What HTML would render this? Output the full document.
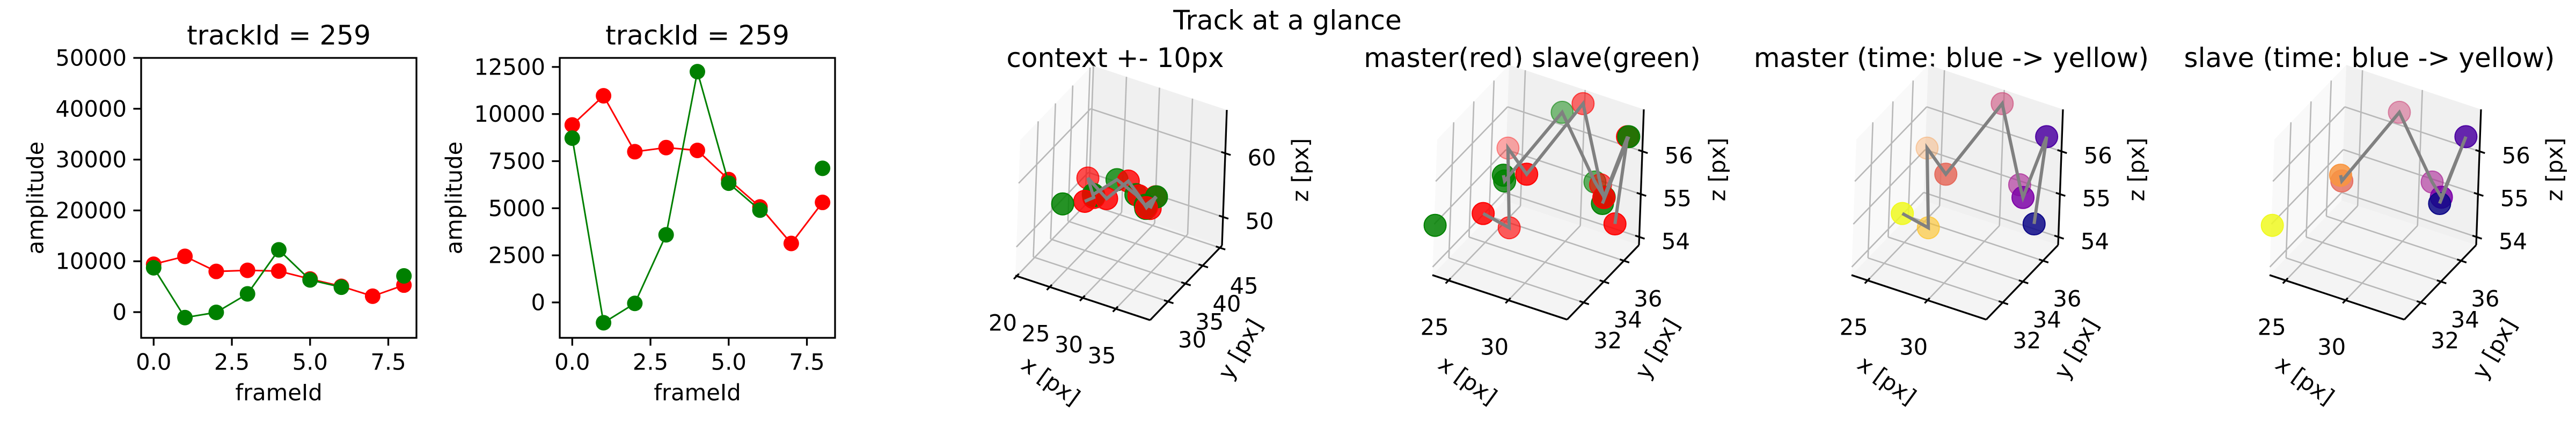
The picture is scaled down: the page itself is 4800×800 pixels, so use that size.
<!DOCTYPE html>
<html><head><meta charset="utf-8">
<style>
html,body{margin:0;padding:0;background:#fff;}
svg{display:block;font-family:"DejaVu Sans","Liberation Sans",sans-serif;}
</style></head>
<body>
<svg id="fig" xmlns="http://www.w3.org/2000/svg" width="4800" height="800" viewBox="0 0 4800 800">
<rect width="4800" height="800" fill="#fff"/>
<text x="2399" y="38" font-size="50" text-anchor="middle" dominant-baseline="central">Track at a glance</text>
</svg>
<script>
const frames = [0,1,2,3,4,5,6,7,8];
const ampMaster = [9420,10970,8000,8220,8070,6520,5070,3130,5310];
const ampSlave = [8720,-1080,-50,3590,12250,6330,4900,null,7120];
const ylim1 = [-5060,50000];
const ylim2 = [-1880,12980];
const yticks1 = [0,10000,20000,30000,40000,50000];
const yticks2 = [0,2500,5000,7500,10000,12500];
const xticks2d = [0,2.5,5,7.5];
const xtickLabels2d = ["0.0","2.5","5.0","7.5"];

const masterX = [34.0,34.78,34.15,31.55,29.87,28.85,23.8,25.85,25.95];
const masterY = [36.07,36.07,34.64,37.5,37.5,33.22,37.5,35.36,32.5];
const masterZ = [54.57,56.68,55.55,54.91,56.65,55.95,55.05,53.9,54.94];
const slaveX = [34.05,34.88,33.6,31.08,28.17,26.48,26.93,null,23.73];
const slaveY = [34.64,36.07,35.36,37.5,37.5,33.93,33.22,null,30.36];
const slaveZ = [55.4,56.69,55.33,54.93,56.29,55.4,55.75,null,54.98];

const ctxXlim=[19.8,40.2], ctxYlim=[24.8,45.6], ctxZlim=[45.5,66.8];
const ctxXticks=[20,25,30,35], ctxYticks=[30,35,40,45], ctxZticks=[50,60];
const trkXlim=[23.65,34.9], trkYlim=[30.36,37.5], trkZlim=[53.81,56.98];
const trkXticks=[25,30], trkYticks=[32,34,36], trkZticks=[54,55,56];

const NS="http://www.w3.org/2000/svg";
const svg=document.getElementById('fig');
function mk(tag,attrs,parent){const e=document.createElementNS(NS,tag);for(const k in attrs)e.setAttribute(k,attrs[k]);(parent||svg).appendChild(e);return e;}

/* ---------- 2D panels ---------- */
function panel2d(idx,x0,x1,ylim,yticks){
  const y0=108,y1=630;
  const g=mk('g',{});
  
  
  const sx=v=>x0+(v+0.4)/8.8*(x1-x0);
  const sy=v=>y1-(v-ylim[0])/(ylim[1]-ylim[0])*(y1-y0);
  const t=mk('text',{x:(x0+x1)/2,y:66,'font-size':50,'text-anchor':'middle','dominant-baseline':'central'},g);
  t.textContent='trackId = 259';
  
  
  yticks.forEach(v=>{
    const y=sy(v);
    const l=mk('line',{x1:x0,x2:x0-14.6,y1:y,y2:y,stroke:'#000','stroke-width':3.3},g);
    
    
    const tx=mk('text',{x:x0-27,y:y,'font-size':41.7,'text-anchor':'end','dominant-baseline':'central'},g);
    tx.textContent=String(v);
    
    
  });
  xticks2d.forEach((v,i)=>{
    const x=sx(v);
    const l=mk('line',{x1:x,x2:x,y1:y1,y2:y1+14.6,stroke:'#000','stroke-width':3.3},g);
    
    
    const tx=mk('text',{x:x,y:675,'font-size':41.7,'text-anchor':'middle','dominant-baseline':'central'},g);
    tx.textContent=xtickLabels2d[i];
    
    
  });
  function series(vals,color,name){
    let seg=[];const segs=[];
    vals.forEach((v,i)=>{if(v===null){if(seg.length)segs.push(seg);seg=[];}else seg.push([sx(frames[i]),sy(v)]);});
    if(seg.length)segs.push(seg);
    segs.forEach(s=>{if(s.length>1){
      const p=mk('polyline',{points:s.map(q=>q.join(',')).join(' '),fill:'none',stroke:color,'stroke-width':3},g);
      
      
    }});
    vals.forEach((v,i)=>{if(v===null)return;
      const c=mk('circle',{cx:sx(frames[i]),cy:sy(v),r:14.5,fill:color},g);
      
      
    });
  }
  series(ampMaster,'#ff0000','master');
  series(ampSlave,'#008000','slave');
  const fr=mk('rect',{x:x0,y:y0,width:x1-x0,height:y1-y0,fill:'none',stroke:'#000','stroke-width':3.3},g);
  
  
  const yl=mk('text',{x:0,y:0,'font-size':41.7,'text-anchor':'middle','dominant-baseline':'central',transform:`translate(${x0-197},369) rotate(-90)`},g);
  yl.textContent='amplitude';
  
  
  const xl=mk('text',{x:(x0+x1)/2,y:732,'font-size':41.7,'text-anchor':'middle','dominant-baseline':'central'},g);
  xl.textContent='frameId';
  
  
}
panel2d(1,263,776,ylim1,yticks1);
panel2d(2,1043,1556,ylim2,yticks2);

/* ---------- 3D panels ---------- */
const EX=[251,83],EY=[134,-139],EZ=[9,-253];
const plasmaStops=[[13,8,135],[76,2,161],[126,3,168],[169,35,149],[204,71,120],[229,107,93],[248,149,64],[253,195,40],[240,249,33]];
function plasma(t){const f=t*8,i=Math.min(7,Math.floor(f)),r=f-i,a=plasmaStops[i],b=plasmaStops[i+1];
  return 'rgb('+a.map((c,k)=>Math.round(c+(b[k]-c)*r)).join(',')+')';}

function panel3d(idx,ox,oy,title,xl,yl,zl,xt,yt,zt,sets){
  const g=mk('g',{});
  
  
  const P=(u,v,w)=>[ox+u*EX[0]+v*EY[0]+w*EZ[0], oy+u*EX[1]+v*EY[1]+w*EZ[1]];
  const fu=x=>(x-xl[0])/(xl[1]-xl[0]), fv=y=>(y-yl[0])/(yl[1]-yl[0]), fw=z=>(z-zl[0])/(zl[1]-zl[0]);
  const pts=a=>a.map(p=>p.join(',')).join(' ');
  const t=mk('text',{x:ox+186,y:108,'font-size':50,'text-anchor':'middle','dominant-baseline':'central'},g);
  t.textContent=title;
  
  
  const px=mk('polygon',{points:pts([P(0,0,0),P(0,1,0),P(0,1,1),P(0,0,1)]),fill:'#f9f9f9'},g);
  
  
  const py=mk('polygon',{points:pts([P(0,1,0),P(1,1,0),P(1,1,1),P(0,1,1)]),fill:'#f0f0f0'},g);
  
  
  const pz=mk('polygon',{points:pts([P(0,0,0),P(1,0,0),P(1,1,0),P(0,1,0)]),fill:'#f4f4f4'},g);
  
  
  const grid=(a,b)=>{const l=mk('polyline',{points:pts([a,b]),stroke:'#b8b8b8','stroke-width':2.6,fill:'none'},g);
    
    };
  xt.forEach(x=>{const u=fu(x);grid(P(u,0,0),P(u,1,0));grid(P(u,1,0),P(u,1,1));});
  yt.forEach(y=>{const v=fv(y);grid(P(0,v,0),P(1,v,0));grid(P(0,v,0),P(0,v,1));});
  zt.forEach(z=>{const w=fw(z);grid(P(0,0,w),P(0,1,w));grid(P(0,1,w),P(1,1,w));});
  const ax=(a,b,n)=>{const l=mk('polyline',{points:pts([a,b]),stroke:'#000','stroke-width':3.3,fill:'none'},g);
    
    };
  ax(P(0,0,0),P(1,0,0),'x-axis-line');ax(P(1,0,0),P(1,1,0),'y-axis-line');ax(P(1,1,0),P(1,1,1),'z-axis-line');
  const lab=(x,y,s,n)=>{const e=mk('text',{x:x,y:y,'font-size':41.7,'text-anchor':'middle','dominant-baseline':'central'},g);
    e.textContent=s;};
  xt.forEach(x=>{const u=fu(x);ax(P(u,-0.04,0),P(u,0.03,0),'x-tick');const p=P(u,0,0);lab(p[0]-26,p[1]+87,String(x),'x-tick-label');});
  yt.forEach(y=>{const v=fv(y);ax(P(0.97,v,0),P(1.04,v,0),'y-tick');const p=P(1,v,0);lab(p[0]+45,p[1]+71,String(y),'y-tick-label');});
  zt.forEach(z=>{const w=fw(z);ax(P(0.97,1,w),P(1.04,1,w),'z-tick');const p=P(1,1,w);lab(p[0]+68,p[1]+8,String(z),'z-tick-label');});
  const at=(x,y,rot,s,n)=>{const e=mk('text',{x:0,y:0,'font-size':41.7,'text-anchor':'middle','dominant-baseline':'central',transform:`translate(${x},${y}) rotate(${rot})`},g);
    e.textContent=s;};
  at(ox+66,oy+196,36,'x [px]','x-axis-title');
  at(ox+419,oy+137,-60,'y [px]','y-axis-title');
  at(ox+531,oy-197,-90,'z [px]','z-axis-title');
  const marks=[];
  sets.forEach(s=>{s.X.forEach((x,i)=>{if(x===null)return;
    const u=fu(x),v=fv(s.Y[i]),w=fw(s.Z[i]);
    const depth=0.87*v-0.5*u;
    marks.push({p:P(u,v,w),depth:depth,color:s.color?s.color:plasma(i/8),name:s.name});});});
  marks.sort((a,b)=>b.depth-a.depth);
  marks.forEach(m=>{const a=Math.max(0.35,Math.min(1,1.25-m.depth));
    const c=mk('circle',{cx:m.p[0],cy:m.p[1],r:20.5,fill:m.color,'fill-opacity':(a*0.85).toFixed(2),stroke:m.color,'stroke-opacity':a.toFixed(2),'stroke-width':2},g);
    
    });
  sets.forEach(s=>{if(!s.line)return;let seg=[];const segs=[];
    s.X.forEach((x,i)=>{if(x===null){if(seg.length)segs.push(seg);seg=[];}else seg.push(P(fu(x),fv(s.Y[i]),fw(s.Z[i])));});
    if(seg.length)segs.push(seg);
    segs.forEach(q=>{if(q.length>1){const l=mk('polyline',{points:pts(q),fill:'none',stroke:'#808080','stroke-width':6,'stroke-linejoin':'miter'},g);
      
      }});});
}
const M={X:masterX,Y:masterY,Z:masterZ,name:'master',line:true};
const S={X:slaveX,Y:slaveY,Z:slaveZ,name:'slave',line:true};
panel3d(1,1892,514,'context +- 10px',ctxXlim,ctxYlim,ctxZlim,ctxXticks,ctxYticks,ctxZticks,[Object.assign({},M,{color:'#ff0000'}),Object.assign({},S,{color:'#008000'})]);
panel3d(2,2669,513,'master(red) slave(green)',trkXlim,trkYlim,trkZlim,trkXticks,trkYticks,trkZticks,[Object.assign({},M,{color:'#ff0000'}),Object.assign({},S,{color:'#008000'})]);
panel3d(3,3450,513,'master (time: blue -> yellow)',trkXlim,trkYlim,trkZlim,trkXticks,trkYticks,trkZticks,[M]);
panel3d(4,4229,513,'slave (time: blue -> yellow)',trkXlim,trkYlim,trkZlim,trkXticks,trkYticks,trkZticks,[S]);
</script>
</body></html>
